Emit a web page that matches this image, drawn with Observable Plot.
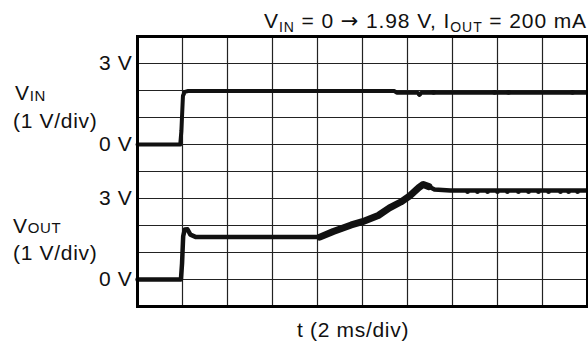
<!DOCTYPE html>
<html><head><meta charset="utf-8">
<script src="https://cdn.jsdelivr.net/npm/d3@7"></script>
<script src="https://cdn.jsdelivr.net/npm/@observablehq/plot@0.6"></script>
<style>
  body { margin: 0; background: #fff; }
  svg { display: block; }
</style>
</head><body><div id="chart"></div>
<script>
// Time in ms (2 ms per division), values in volts (1 V per division)
const vinTime  = [0, 1.9, 1.95, 2.02, 2.1, 2.25, 11.42, 11.52, 12.45, 12.53, 12.62, 20];
const vinVolts = [0, 0, 0.5, 1.8, 1.95, 1.98, 1.98, 1.92, 1.92, 1.84, 1.92, 1.92];

const voutTime  = [0, 1.93, 1.98, 2.03, 2.1, 2.22, 2.35, 2.6, 8.1, 8.7, 9.5, 10.0, 10.7, 11.2, 11.7, 12.1, 12.5, 12.7, 12.95, 13.2, 13.9, 20];
const voutVolts = [0, 0, 0.6, 1.6, 1.85, 1.86, 1.66, 1.57, 1.57, 1.78, 2.02, 2.14, 2.37, 2.65, 2.87, 3.1, 3.4, 3.52, 3.44, 3.33, 3.3, 3.3];

// small glitches drawn on the traces
const vinGlitchTime  = [12.53, 13.16, 15.87, 16.49, 19.33];
const vinGlitchVolts = [1.86, 1.93, 1.93, 1.93, 1.93];
const voutRippleTime  = [14.67, 15.11, 15.56, 16.0, 16.44, 16.93, 17.38, 17.82, 18.27, 18.8, 19.16, 19.56];
const voutRippleVolts = [3.25, 3.25, 3.25, 3.25, 3.25, 3.25, 3.25, 3.25, 3.25, 3.25, 3.25, 3.25];

// screen layout in divisions (10 x 10 graticule)
const vinOffset = 6;   // VIN 0 V sits 6 divisions above bottom
const voutOffset = 1;  // VOUT 0 V sits 1 division above bottom
const gridTimes = [0, 2, 4, 6, 8, 10, 12, 14, 16, 18, 20];
const gridDivs  = [0, 1, 2, 3, 4, 5, 6, 7, 8, 9, 10];
const tickPos    = [1, 4, 6, 9];
const tickLabels = ["0 V", "3 V", "0 V", "3 V"];
const xLabel = "t (2 ms/div)";

const vin  = vinTime.map((t, i) => ({t, v: vinVolts[i] + vinOffset}));
const vout = voutTime.map((t, i) => ({t, v: voutVolts[i] + voutOffset}));
const vinG = vinGlitchTime.map((t, i) => ({t, v: vinGlitchVolts[i] + vinOffset}));
const voutR = voutRippleTime.map((t, i) => ({t, v: voutRippleVolts[i] + voutOffset}));
const labelAt = new Map(tickPos.map((p, i) => [p, tickLabels[i]]));

const FONT = "'Liberation Sans', Arial, Helvetica, sans-serif";
const INK = "#111";

const chart = Plot.plot({
  width: 588,
  height: 342,
  marginLeft: 137,
  marginRight: 1,
  marginTop: 36,
  marginBottom: 36,
  style: {fontFamily: FONT, background: "#fff", color: INK, letterSpacing: "0.7px", overflow: "visible"},
  x: {domain: [0, 20], axis: null},
  y: {domain: [0, 10], axis: null},
  marks: [
    Plot.ruleX(gridTimes, {stroke: "#222", strokeWidth: 1.2}),
    Plot.ruleY(gridDivs, {stroke: "#222", strokeWidth: 1.2}),
    Plot.axisY({ticks: tickPos, tickFormat: d => labelAt.get(d), tickSize: 0, tickPadding: 5, fontSize: 21, label: null, fill: INK}),
    Plot.line(vin, {x: "t", y: "v", stroke: INK, strokeWidth: 4, strokeLinejoin: "round"}),
    Plot.line(vout, {x: "t", y: "v", stroke: INK, strokeWidth: 4.5, strokeLinejoin: "round"}),
    Plot.line(vout.filter(d => d.t >= 8.1 && d.t <= 13), {x: "t", y: "v", stroke: INK, strokeWidth: 7, strokeLinejoin: "round", strokeLinecap: "round"}),
    Plot.dot(vinG, {x: "t", y: "v", r: 2.4, fill: INK}),
    Plot.dot(voutR, {x: "t", y: "v", r: 2.3, fill: INK}),
    Plot.frame({stroke: "#000", strokeWidth: 3})
  ]
});
document.getElementById("chart").append(chart);

const svg = d3.select(chart);
const fx = chart.scale("x");

function addText(x, y, parts, anchor, spacing) {
  const t = svg.append("text")
    .attr("x", x).attr("y", y)
    .attr("text-anchor", anchor || "start")
    .attr("fill", INK)
    .style("font-family", FONT)
    .style("letter-spacing", spacing || "0.7px");
  parts.forEach(p => {
    const s = t.append("tspan").text(p.text).style("font-size", (p.size || 21) + "px");
    if (p.dy) s.attr("dy", p.dy);
    if (p.family) s.style("font-family", p.family);
  });
  return t;
}

// Title, top right
addText(587, 28, [
  {text: "V"}, {text: "IN", size: 14, dy: 4},
  {text: " = 0 ", dy: -4},
  {text: "\u2192", family: "'DejaVu Sans', sans-serif", size: 21},
  {text: " 1.98 V, I"},
  {text: "OUT", size: 14, dy: 4},
  {text: " = 200 mA", dy: -4}
], "end", "0.9px");

// Channel labels
addText(15, 100, [{text: "V"}, {text: "IN", size: 15, dy: 1}]);
addText(13, 128, [{text: "(1 V/div)"}]);
addText(13, 233, [{text: "V"}, {text: "OUT", size: 15}]);
addText(13, 260, [{text: "(1 V/div)"}]);

// x label
addText((fx.apply(0) + fx.apply(20)) / 2 - 9, 337, [{text: xLabel}], "middle");
</script>
</body></html>
